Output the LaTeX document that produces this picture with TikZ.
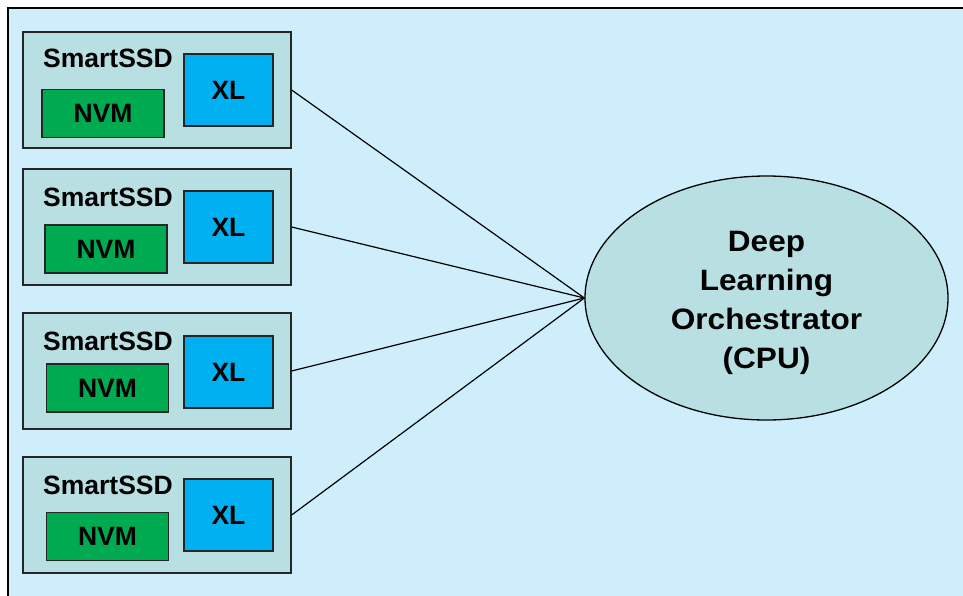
\documentclass[tikz,border=0pt]{standalone}
\usepackage{fontspec}
\setmainfont{Liberation Sans}
\newfontfamily\widefont[FakeStretch=1.07]{Liberation Sans}
\usetikzlibrary{shapes.geometric}
\definecolor{bgblue}{RGB}{207,238,252}
\definecolor{boxfill}{RGB}{184,223,226}
\definecolor{nvmgreen}{RGB}{0,170,80}
\definecolor{xlblue}{RGB}{0,176,240}
\tikzset{
  ssdbox/.style={draw=black!85, line width=1.3pt, fill=boxfill, minimum width=268pt, minimum height=116pt, inner sep=0pt},
  nvmbox/.style={draw=black!85, line width=1.3pt, fill=nvmgreen, minimum width=122pt, minimum height=48pt, inner sep=0pt, font=\fontsize{26.5}{30}\selectfont\bfseries},
  xlbox/.style={draw=black!85, line width=1.3pt, fill=xlblue, minimum width=89pt, minimum height=72pt, inner sep=0pt, font=\fontsize{26.5}{30}\selectfont\bfseries},
  ssdlabel/.style={inner sep=0pt, font=\fontsize{26.5}{30}\selectfont\bfseries},
  orch/.style={ellipse, draw=black, line width=1.3pt, fill=boxfill, minimum width=363pt, minimum height=244pt, inner sep=0pt},
  orchtext/.style={inner sep=0pt, align=center, font=\widefont\fontsize{29.5}{39}\selectfont\bfseries},
  link/.style={draw=black, line width=1.2pt}
}
\begin{document}
\begin{tikzpicture}[x=1pt,y=-1pt]
\useasboundingbox (0,0) rectangle (963,595);
\clip (0,0) rectangle (963,595);
\fill[white] (0,0) rectangle (963,595);
\draw[line width=2pt, fill=bgblue] (8,8) rectangle (975,610);

% SmartSSD boxes
\node[ssdbox] (s1) at (157,90) {};
\node[ssdbox] (s2) at (157,227) {};
\node[ssdbox] (s3) at (157,371) {};
\node[ssdbox] (s4) at (157,515) {};

\node[ssdlabel] (l1) at (108,58) {SmartSSD};
\node[ssdlabel] (l2) at (108,197) {SmartSSD};
\node[ssdlabel] (l3) at (108,341) {SmartSSD};
\node[ssdlabel] (l4) at (108,485) {SmartSSD};

\node[nvmbox] (n1) at (103,113.5) {NVM};
\node[nvmbox] (n2) at (106,249) {NVM};
\node[nvmbox] (n3) at (107.5,388) {NVM};
\node[nvmbox] (n4) at (107.5,536.5) {NVM};

\node[xlbox] (x1) at (228.5,90) {XL};
\node[xlbox] (x2) at (228.5,227) {XL};
\node[xlbox] (x3) at (228.5,372) {XL};
\node[xlbox] (x4) at (228.5,515) {XL};

% Orchestrator
\node[orch] (cpu) at (766.5,298) {};
\node[orchtext] (cputext) at (766.5,303) {Deep\\Learning\\Orchestrator\\(CPU)};

% Connectors
\draw[link] (s1.east) -- (cpu.west);
\draw[link] (s2.east) -- (cpu.west);
\draw[link] (s3.east) -- (cpu.west);
\draw[link] (s4.east) -- (cpu.west);
\end{tikzpicture}
\end{document}
